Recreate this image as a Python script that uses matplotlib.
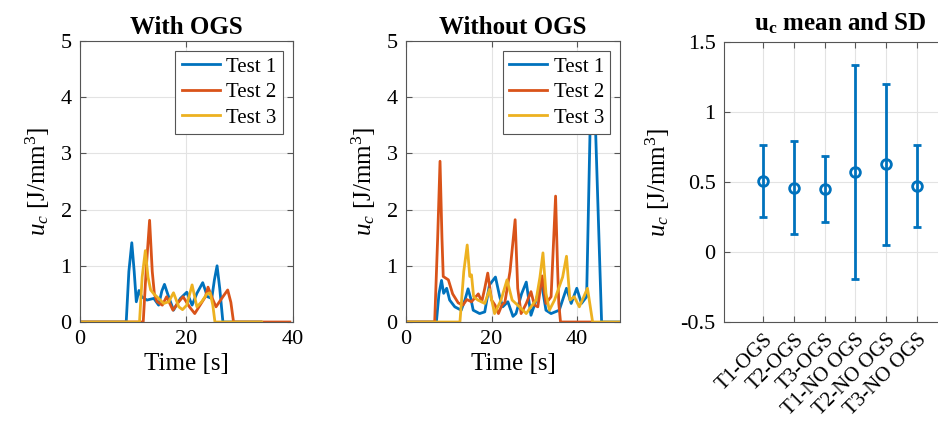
import matplotlib
matplotlib.use("Agg")
import matplotlib.pyplot as plt
from matplotlib.ticker import FuncFormatter

plt.rcParams['font.family'] = ['Liberation Serif', 'DejaVu Serif']
plt.rcParams['mathtext.fontset'] = 'custom'
plt.rcParams['mathtext.rm'] = 'Liberation Serif'
plt.rcParams['mathtext.it'] = 'Liberation Serif:italic'
plt.rcParams['mathtext.bf'] = 'Liberation Serif:bold'
plt.rcParams['axes.unicode_minus'] = False

# ---------------- data ----------------
series_names = ["Test 1", "Test 2", "Test 3"]

# With OGS
ogs_t1_x = [0, 8.7, 9.2, 9.75, 10.2, 10.6, 11.1, 11.6, 12.6, 13.9, 14.8, 15.4, 15.9, 16.5, 17.6, 18.9,
            20.1, 21.1, 22.0, 23.1, 24.0, 24.8, 25.3, 25.8, 26.3, 26.9, 34]
ogs_t1_y = [0, 0, 0.9, 1.41, 0.9, 0.36, 0.56, 0.45, 0.39, 0.42, 0.3, 0.55, 0.67, 0.5, 0.21, 0.42,
            0.53, 0.30, 0.51, 0.70, 0.45, 0.42, 0.75, 1.0, 0.6, 0, 0]
ogs_t2_x = [0, 11.9, 12.5, 13.1, 13.6, 14.0, 14.5, 15.5, 16.3, 17.5, 18.5, 19.4, 20.6, 21.6, 22.6,
            23.6, 24.1, 25.0, 25.6, 26.9, 27.8, 28.4, 28.9, 39.5]
ogs_t2_y = [0, 0, 1.0, 1.81, 0.9, 0.5, 0.36, 0.3, 0.45, 0.21, 0.35, 0.45, 0.27, 0.15, 0.3,
            0.45, 0.62, 0.4, 0.27, 0.45, 0.57, 0.35, 0, 0]
ogs_t3_x = [0, 11.2, 11.7, 12.3, 12.8, 13.3, 13.9, 14.8, 15.75, 16.7, 17.6, 18.6, 19.3, 20.1, 21.1,
            22.0, 22.9, 23.9, 24.5, 25.0, 25.4, 34.2]
ogs_t3_y = [0, 0, 0.8, 1.27, 0.8, 0.57, 0.5, 0.42, 0.33, 0.36, 0.52, 0.27, 0.22, 0.3, 0.66,
            0.27, 0.36, 0.5, 0.52, 0.3, 0, 0]

# Without OGS
no_t1_x = [0, 7.1, 7.7, 8.3, 8.8, 9.5, 10.2, 11.4, 12.9, 13.8, 14.5, 15.2, 15.7, 17.2, 18.4, 19.5,
           20.9, 21.9, 22.6, 23.8, 25.0, 25.7, 27.0, 28.1, 29.2, 30.4, 31.6, 32.7, 33.9, 35.8, 37.5,
           38.6, 39.9, 41.0, 42.2, 43.0, 43.65, 44.3, 45.7, 50]
no_t1_y = [0, 0, 0.5, 0.74, 0.51, 0.6, 0.39, 0.27, 0.21, 0.4, 0.59, 0.4, 0.21, 0.15, 0.18, 0.66,
           0.8, 0.45, 0.27, 0.36, 0.1, 0.15, 0.5, 0.71, 0.12, 0.39, 0.72, 0.21, 0.15, 0.21, 0.6,
           0.33, 0.6, 0.33, 0.45, 3.4, 4.5, 3.4, 0, 0]
no_t2_x = [0, 6.7, 7.4, 7.95, 8.4, 8.7, 9.9, 10.9, 12.2, 13.3, 14.2, 15.3, 16.9, 17.7, 18.4, 19.1,
           19.6, 20.0, 20.8, 21.6, 22.4, 23.1, 24.3, 25.5, 26.1, 26.9, 28.1, 29.2, 30.0, 30.8, 31.8,
           32.7, 33.9, 34.4, 34.95, 35.4, 35.7, 36.1, 43.4]
no_t2_y = [0, 0, 1.5, 2.86, 1.5, 0.81, 0.75, 0.5, 0.34, 0.3, 0.4, 0.36, 0.5, 0.36, 0.6, 0.87,
           0.6, 0.39, 0.3, 0.15, 0.3, 0.35, 0.9, 1.82, 0.6, 0.15, 0.33, 0.54, 0.3, 0.27, 0.82,
           0.33, 0.45, 1.3, 2.24, 1.0, 0.33, 0, 0]
no_t3_x = [0, 12.6, 13.5, 14.3, 14.9, 15.3, 15.8, 16.8, 18.4, 19.5, 20.7, 22.2, 23.6, 24.8, 26.5,
           28.1, 29.2, 30.4, 31.3, 32.0, 32.7, 33.5, 34.7, 36.6, 37.5, 38.3, 39.3, 40.5, 42.4, 43.6, 50]
no_t3_y = [0, 0, 0.9, 1.37, 0.81, 0.84, 0.45, 0.39, 0.33, 0.58, 0.15, 0.39, 0.75, 0.39, 0.27,
           0.15, 0.27, 0.39, 0.8, 1.23, 0.51, 0.21, 0.39, 0.8, 1.17, 0.39, 0.45, 0.27, 0.6, 0, 0]

# mean and SD
cond_labels = ["T1-OGS", "T2-OGS", "T3-OGS", "T1-NO OGS", "T2-NO OGS", "T3-NO OGS"]
cond_mean = [0.505, 0.46, 0.45, 0.571, 0.625, 0.469]
cond_sd = [0.258, 0.334, 0.235, 0.762, 0.573, 0.292]

colors = ['#0072BD', '#D95319', '#EDB120']

# ---------------- figure ----------------
W, H = 938, 430
fig = plt.figure(figsize=(W / 100, H / 100), dpi=100)


def px_axes(l, r, t, b):
    return fig.add_axes([l / W, 1 - b / H, (r - l) / W, (b - t) / H])


spine_col = '#555555'
grid_col = '#e3e3e3'


def style(ax):
    for s in ax.spines.values():
        s.set_color(spine_col)
        s.set_linewidth(0.8)
    ax.tick_params(direction='in', which='both', top=True, right=True, color=spine_col,
                   labelsize=16, length=4, width=0.8, pad=6)
    ax.grid(True, color=grid_col, linewidth=0.8)
    ax.set_axisbelow(True)


ylab = r'$u_c$ [J/mm$^3$]'


def ts_panel(ax, xs, ys, title, xmax, xticks):
    for x, y, c, n in zip(xs, ys, colors, series_names):
        ax.plot(x, y, color=c, lw=2.0, label=n)
    ax.set_xlim(0, xmax)
    ax.set_ylim(0, 5)
    ax.set_xticks(xticks)
    ax.set_yticks([0, 1, 2, 3, 4, 5])
    style(ax)
    ax.set_title(title, fontsize=18, fontweight='bold', pad=5)
    ax.set_xlabel('Time [s]', fontsize=18, labelpad=3)
    ax.set_ylabel(ylab, fontsize=18, labelpad=6)
    leg = ax.legend(loc='upper right', bbox_to_anchor=(0.955, 0.965), fontsize=15,
                    fancybox=False, framealpha=1, edgecolor='#555555', handlelength=1.85,
                    handletextpad=0.3, borderpad=0.3, labelspacing=0.28, borderaxespad=0)
    leg.get_frame().set_linewidth(0.8)


ax1 = px_axes(80, 292.5, 41, 322)
ts_panel(ax1, [ogs_t1_x, ogs_t2_x, ogs_t3_x], [ogs_t1_y, ogs_t2_y, ogs_t3_y], 'With OGS', 40, [0, 20, 40])

ax2 = px_axes(406, 620, 41, 322)
ts_panel(ax2, [no_t1_x, no_t2_x, no_t3_x], [no_t1_y, no_t2_y, no_t3_y], 'Without OGS', 50, [0, 20, 40])

ax3 = px_axes(724, 956, 42, 322)
xpos = list(range(1, len(cond_labels) + 1))
ax3.errorbar(xpos, cond_mean, yerr=cond_sd, fmt='o', color='#0072BD', ecolor='#0072BD',
             elinewidth=2, capsize=3, capthick=2, markersize=7, mfc='none', mew=2)
ax3.set_xlim(-0.28, 7.28)
ax3.set_ylim(-0.5, 1.5)
ax3.set_yticks([-0.5, 0, 0.5, 1, 1.5])
ax3.yaxis.set_major_formatter(FuncFormatter(lambda v, p: '%g' % v))
ax3.set_xticks(xpos)
style(ax3)
ax3.set_xticklabels(cond_labels, rotation=45, ha='right', rotation_mode='anchor', fontsize=15)
ax3.set_title(r'$\mathbf{u_c}$ mean and SD', fontsize=18, fontweight='bold', pad=8)
ax3.set_ylabel(ylab, fontsize=18, labelpad=6)

fig.savefig('out.png', dpi=100)
